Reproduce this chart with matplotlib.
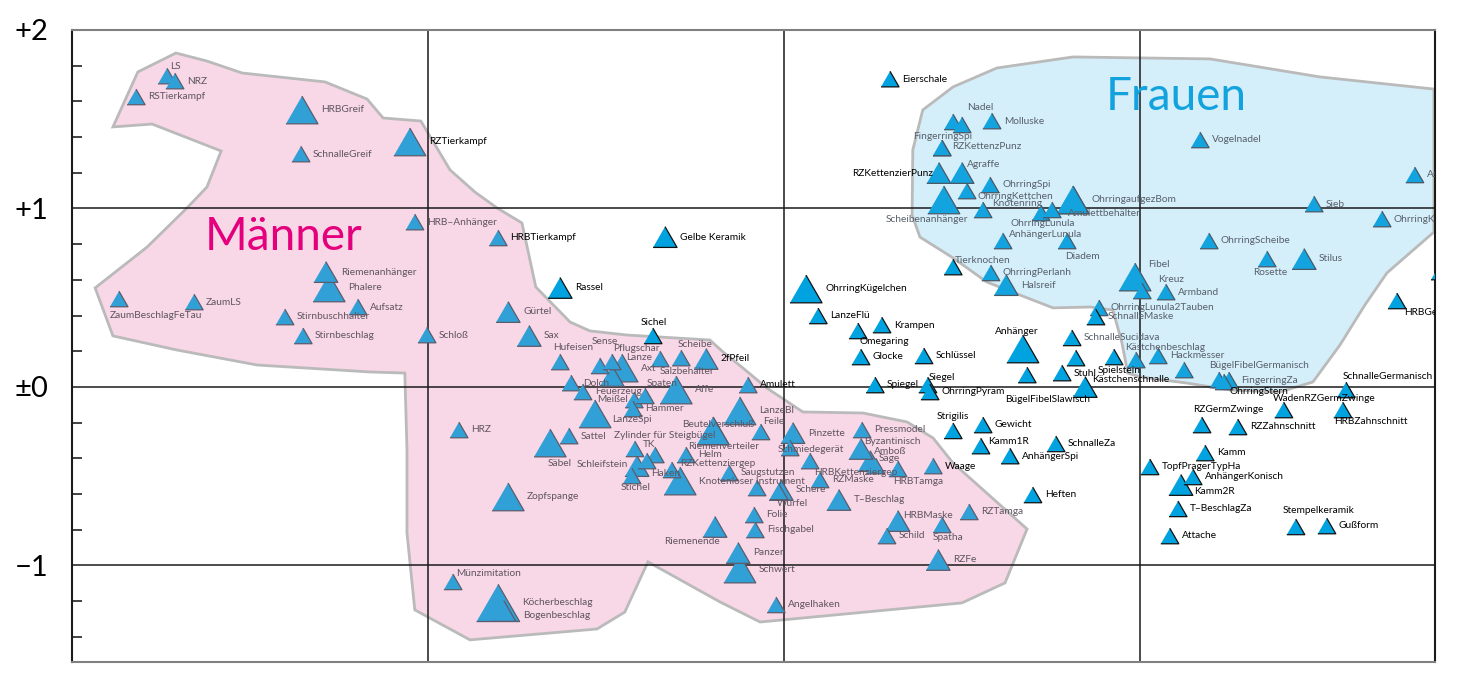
import numpy as np
import matplotlib
matplotlib.use("Agg")
import matplotlib.pyplot as plt
from matplotlib.path import Path
from matplotlib.patches import Polygon
from matplotlib.ticker import MultipleLocator

# ---- data: correspondence analysis, grave goods (dim1, dim2, weight class)
labels = [
    "LS", "NRZ", "RSTierkampf", "HRBGreif", "SchnalleGreif", "RZTierkampf",
    "HRB–Anhänger", "HRBTierkampf", "Gelbe Keramik", "Riemenanhänger", "Phalere",
    "Aufsatz", "ZaumBeschlagFeTau", "ZaumLS", "Stirnbuschhalter", "Stirnbeschlag",
    "Schloß", "Gürtel", "Rassel", "Sax", "Hufeisen", "Sichel", "Sense",
    "Pflugschar", "Lanze", "Axt", "Salzbehälter", "Scheibe", "2fPfeil", "Dolch",
    "Feuerzeug", "Meißel", "Spaten", "Affe", "Hammer", "LanzeSpi", "HRZ",
    "Sattel", "Säbel", "Beutelverschluß", "TK", "Zylinder für Steigbügel", "Helm",
    "Riemenverteiler", "Schleifstein", "Haken", "Stichel", "RZKettenziergep",
    "Knotenloser Instrument", "Saugstutzen", "", "Schere", "Würfel", "Zopfspange",
    "Riemenende", "Münzimitation", "Köcherbeschlag", "Bogenbeschlag", "Folie",
    "Fischgabel", "Panzer", "Schwert", "Angelhaken", "T–Beschlag", "HRBMaske",
    "Schild", "Spatha", "RZTamga", "RZFe", "Heften", "Waage", "HRBTamga",
    "RZMaske", "HRBKettenziergep", "Amboß", "Säge", "Byzantinisch", "Pressmodel",
    "Amulett", "LanzeBl", "Feile", "Pinzette", "Schmiedegerät",
    "Strigilis", "Gewicht", "Kamm1R", "SchnalleZa", "AnhängerSpi", "Spiegel",
    "Siegel", "OhrringPyram", "BügelFibelSlawisch", "Stuhl", "Anhänger", "",
    "SchnalleSucidava", "Kästchenschnalle", "Schlüssel", "Glocke", "Omegaring",
    "Krampen", "LanzeFlü", "OhrringKügelchen", "Tierknochen", "OhrringPerlanh",
    "Halsreif", "AnhängerLunula", "Diadem", "Eierschale", "Nadel", "",
    "FingerringSpi", "RZKettenzPunz", "Molluske", "RZKettenzierPunz", "Agraffe",
    "OhrringSpi", "OhrringKettchen", "Scheibenanhänger", "Knotenring",
    "OhrringLunula", "", "OhrringaufgezBom", "Amulettbehälter", "Vogelnadel",
    "As", "Sieb", "OhrringKo", "OhrringScheibe", "Rosette", "Stilus", "Fibel",
    "Kreuz", "Armband", "OhrringLunula2Tauben", "SchnalleMaske",
    "Kästchenbeschlag", "Spielstein", "Hackmesser", "", "BügelFibelGermanisch",
    "FingerringZa", "OhrringStern", "SchnalleGermanisch", "WadenRZGermZwinge",
    "HRBZahnschnitt", "RZGermZwinge", "RZZahnschnitt", "Kamm", "HRBGe", "",
    "TopfPragerTypHa", "AnhängerKonisch", "Kamm2R", "T–BeschlagZa", "Attache",
    "Stempelkeramik", "Gußform",
]
dim1 = [
    -1.733, -1.711, -1.820, -1.354, -1.357, -1.051,
    -1.037, -0.803, -0.334, -1.287, -1.278,
    -1.197, -1.868, -1.657, -1.402, -1.351,
    -1.003, -0.775, -0.629, -0.716, -0.629, -0.368, -0.517,
    -0.483, -0.483, -0.455, -0.348, -0.289, -0.219, -0.598,
    -0.565, -0.421, -0.390, -0.303, -0.424, -0.531, -0.913,
    -0.604, -0.657, -0.199, -0.419, -0.362, -0.275,
    -0.199, -0.413, -0.385, -0.427, -0.315,
    -0.292, -0.154, -0.076, -0.008, -0.014, -0.775,
    -0.194, -0.930, -0.803, -0.787, -0.084,
    -0.081, -0.129, -0.124, -0.022, 0.154, 0.320,
    0.289, 0.444, 0.520, 0.433, 0.699, 0.419, 0.320,
    0.101, 0.073, 0.242, 0.258, 0.216, 0.219,
    -0.101, -0.124, -0.065, 0.025, 0.017,
    0.475, 0.559, 0.553, 0.764, 0.635, 0.256,
    0.404, 0.410, 0.846, 0.781, 0.671, 0.683,
    0.809, 0.820, 0.393, 0.216, 0.208,
    0.275, 0.096, 0.062, 0.475, 0.581,
    0.624, 0.615, 0.795, 0.298, 0.475, 0.500,
    0.444, 0.444, 0.584, 0.435, 0.500,
    0.579, 0.514, 0.449, 0.559,
    0.722, 0.753, 0.812, 0.812, 1.169,
    1.772, 1.489, 1.680, 1.194, 1.357, 1.461, 0.986,
    1.006, 1.073, 0.885, 0.876,
    0.989, 0.927, 1.051, 1.124, 1.222,
    1.250, 1.236, 1.579, 1.404,
    1.570, 1.174, 1.275, 1.183, 1.722, 1.843,
    1.028, 1.149, 1.115, 1.107, 1.084,
    1.438, 1.525,
]
dim2 = [
    1.742, 1.714, 1.625, 1.552, 1.305, 1.373,
    0.924, 0.835, 0.840, 0.644, 0.555,
    0.448, 0.493, 0.476, 0.392, 0.286,
    0.291, 0.420, 0.555, 0.286, 0.140, 0.286, 0.118,
    0.140, 0.062, 0.106, 0.157, 0.162, 0.157, 0.022,
    -0.028, -0.073, -0.050, -0.017, -0.123, -0.151, -0.241,
    -0.275, -0.314, -0.246, -0.347, -0.381, -0.381,
    -0.246, -0.443, -0.415, -0.499, -0.465,
    -0.527, -0.482, -0.566, -0.577, -0.588, -0.616,
    -0.784, -1.092, -1.210, -1.255, -0.717,
    -0.801, -0.930, -1.020, -1.221, -0.633, -0.751,
    -0.835, -0.773, -0.700, -0.969, -0.605, -0.443, -0.459,
    -0.521, -0.415, -0.415, -0.443, -0.347, -0.241,
    0.011, -0.134, -0.252, -0.258, -0.342,
    -0.246, -0.213, -0.331, -0.319, -0.387, 0.011,
    0.011, -0.028, 0.000, 0.078, 0.213, 0.067,
    0.275, 0.162, 0.174, 0.168, 0.314,
    0.347, 0.398, 0.549, 0.672, 0.639,
    0.571, 0.818, 0.818, 1.725, 1.485, 1.468,
    1.339, 1.339, 1.490, 1.199, 1.199,
    1.132, 1.098, 1.048, 0.992,
    0.975, 0.992, 1.048, 1.048, 1.384,
    1.188, 1.025, 0.941, 0.818, 0.717, 0.717, 0.616,
    0.538, 0.532, 0.443, 0.392,
    0.151, 0.168, 0.174, 0.095, 0.039,
    0.039, 0.028, -0.017, -0.129,
    -0.129, -0.213, -0.224, -0.370, 0.482, 0.644,
    -0.448, -0.504, -0.549, -0.683, -0.835,
    -0.784, -0.779,
]
weight = [
    1, 1, 1, 3, 1, 3,
    1, 1, 2, 2, 3,
    1, 1, 1, 1, 1,
    1, 2, 2, 2, 1, 1, 1,
    1, 2, 3, 1, 1, 2, 1,
    1, 1, 1, 3, 1, 3, 1,
    1, 3, 3, 1, 1, 1,
    3, 2, 1, 1, 1,
    3, 1, 1, 2, 1, 3,
    2, 1, 4, 2, 1,
    1, 2, 3, 1, 2, 2,
    1, 1, 1, 2, 1, 1, 1,
    1, 1, 2, 1, 2, 1,
    1, 3, 1, 2, 1,
    1, 1, 1, 1, 1, 1,
    1, 1, 2, 1, 3, 1,
    1, 1, 1, 1, 1,
    1, 1, 3, 1, 1,
    2, 1, 1, 1, 1, 1,
    1, 1, 1, 2, 2,
    1, 1, 3, 1,
    1, 1, 3, 3, 1,
    1, 1, 1, 1, 1, 2, 3,
    1, 1, 1, 1,
    1, 1, 1, 1, 1,
    1, 1, 1, 1,
    1, 1, 1, 1, 1, 1,
    1, 1, 2, 1, 1,
    1, 1,
]

maenner_x = [-1.885, -1.815, -1.708, -1.621, -1.522, -1.289, -1.171, -1.126, -1.020,
             -0.938, -0.868, -0.806, -0.736, -0.697, -0.601, -0.545, -0.441, -0.208,
             -0.171, -0.115, -0.048, 0.053, 0.222, 0.346, 0.419, 0.475, 0.683, 0.621,
             0.500, -0.067, -0.180, -0.382, -0.447, -0.525, -0.882, -1.037, -1.059,
             -1.059, -1.065, -1.163, -1.480, -1.705, -1.885, -1.935, -1.789, -1.677,
             -1.621, -1.581, -1.775]
maenner_y = [1.457, 1.765, 1.871, 1.826, 1.759, 1.709, 1.613, 1.507, 1.490,
             1.216, 1.092, 1.003, 0.919, 0.560, 0.364, 0.314, 0.291, 0.263,
             0.196, 0.106, -0.006, -0.140, -0.146, -0.196, -0.286, -0.426, -0.796, -1.098,
             -1.210, -1.317, -1.204, -0.980, -1.261, -1.356, -1.417, -1.249, -0.818,
             -0.353, 0.078, 0.084, 0.123, 0.207, 0.286, 0.555, 0.784, 1.003,
             1.120, 1.322, 1.473]
frauen_x = [0.390, 0.475, 0.598, 0.812, 1.197, 1.506, 1.826, 1.826, 1.694, 1.632,
            1.562, 1.486, 1.393, 1.253, 1.132, 1.000, 0.966, 0.949, 0.924, 0.860,
            0.756, 0.663, 0.570, 0.475, 0.382, 0.360, 0.362]
frauen_y = [1.552, 1.681, 1.787, 1.849, 1.838, 1.737, 1.669, 0.868, 0.639, 0.459,
            0.235, 0.028, -0.028, -0.017, 0.022, 0.056, 0.078, 0.252, 0.431, 0.448,
            0.443, 0.515, 0.588, 0.723, 0.840, 0.964, 1.328]

yticks = [2, 1, 0, -1]
ytick_labels = ["+2", "+1", "±0", "−1"]

# ---- label placement (pixel offsets from marker centre, y down); default = right
label_pos = {
    "LS": (3, -10), "ZaumBeschlagFeTau": (-9, 17), "Hufeisen": (-7, -14),
    "Sichel": (-12, -13), "Sense": (-8, -24), "Pflugschar": (1, -13),
    "Lanze": (14, -18), "Salzbehälter": (0, 13), "Scheibe": (-3, -14),
    "Meißel": (-6, 0, "right"), "Spaten": (2, -12), "LanzeSpi": (17, 6),
    "Säbel": (-2, 20), "Beutelverschluß": (-31, -6), "TK": (8, -4),
    "Zylinder für Steigbügel": (-41, -19), "Riemenverteiler": (-25, 16),
    "Schleifstein": (-9, -2, "right"), "Haken": (4, 12), "Stichel": (-11, 11),
    "RZKettenziergep": (8, -6), "Würfel": (-2, 12), "Riemenende": (-51, 15),
    "Münzimitation": (3, -8), "Bogenbeschlag": (19, 5), "HRBMaske": (5, -6),
    "Spatha": (-9, 13), "HRBTamga": (-5, 13), "HRBKettenziergep": (4, 11),
    "Amboß": (4, -10), "Säge": (3, -8), "Byzantinisch": (3, -7), "Feile": (2, -10),
    "Schmiedegerät": (-12, 1), "Strigilis": (-16, -14), "Kamm1R": (7, -5),
    "Siegel": (1, -7), "BügelFibelSlawisch": (5, 13, "right"), "Anhänger": (-28, -17),
    "Kästchenschnalle": (16, 21), "Omegaring": (2, 11), "Tierknochen": (2, -7),
    "AnhängerLunula": (6, -6), "Diadem": (-2, 16), "Nadel": (14, -14),
    "FingerringSpi": (-29, -11), "RZKettenzPunz": (10, -1),
    "RZKettenzierPunz": (-6, 1, "right"), "Agraffe": (5, -8), "OhrringKettchen": (11, 6),
    "Scheibenanhänger": (-58, 20), "Knotenring": (9, -6), "OhrringLunula": (-30, 11),
    "Amulettbehälter": (-5, 14), "Rosette": (-14, 14), "Fibel": (13, -13),
    "Kreuz": (16, -11), "Kästchenbeschlag": (-11, -13), "Spielstein": (-16, 14),
    "BügelFibelGermanisch": (-10, -15), "OhrringStern": (6, 10),
    "SchnalleGermanisch": (-3, -13), "WadenRZGermZwinge": (-11, -11),
    "HRBZahnschnitt": (-9, 12), "RZGermZwinge": (-9, -15), "HRBGe": (7, 12),
    "Stempelkeramik": (-13, -16), "Kamm2R": (13, 7),
}
width_px = {1: 18, 2: 24, 3: 32, 4: 43}
XPX, YPX = 356.0, 178.5   # pixels per data unit

fig = plt.figure(figsize=(14.64, 6.79), dpi=100)
ax = fig.add_axes([72 / 1464, 17 / 679, 1363 / 1464, 632 / 679])
ax.set_xlim(-2.0, 1.829)
ax.set_ylim(-1.541, 2.0)

m_poly = np.column_stack([maenner_x, maenner_y])
f_poly = np.column_stack([frauen_x, frauen_y])
ax.add_patch(Polygon(m_poly, closed=True, fc="#f8d7e6", ec="#bababa", lw=2, zorder=1))
ax.add_patch(Polygon(f_poly, closed=True, fc="#d4eefa", ec="#bababa", lw=2, zorder=1))
m_path, f_path = Path(m_poly), Path(f_poly)

for v in (-1, 0, 1):
    ax.axvline(v, color="#1a1a1a", lw=1.1, zorder=2)
    ax.axhline(v, color="#1a1a1a", lw=1.1, zorder=2)

def region(x, y):
    if m_path.contains_point((x, y)):
        return "m"
    if f_path.contains_point((x, y)):
        return "f"
    return "o"

face = {"m": "#31a0d6", "f": "#13a4df", "o": "#00a3df"}
edge = {"m": "#5d5c6c", "f": "#4a5866", "o": "#111111"}
tcol = {"m": "#5f5561", "f": "#57606a", "o": "#000000"}

tri = [(-1, -0.866), (1, -0.866), (0, 0.866)]
order = np.argsort(-np.array(weight), kind="stable")
xs = np.array(dim1)[order]
ys = np.array(dim2)[order]
regs = [region(dim1[i], dim2[i]) for i in order]
sizes = [(width_px[weight[i]] * 0.72) ** 2 for i in order]
ax.scatter(xs, ys, s=sizes, marker=tri, c=[face[r] for r in regs],
           edgecolors=[edge[r] for r in regs], linewidths=0.9, zorder=3, clip_on=True)

for name, x, y, w in zip(labels, dim1, dim2, weight):
    if not name:
        continue
    p = label_pos.get(name, (width_px[w] / 2 + 3, 0))
    dx, dy = p[0], p[1]
    ha = p[2] if len(p) > 2 else "left"
    mid = dx + (len(name) * 2.6 if ha == "left" else -len(name) * 2.6)
    r = region(x + mid / XPX, y - dy / YPX)
    ax.annotate(name, (x, y), xytext=(dx * 0.72, -dy * 0.72), textcoords="offset points",
                ha=ha, va="center", fontsize=7.3, family="Lato", color=tcol[r],
                zorder=5, annotation_clip=False, clip_on=True)

ax.text(-1.626, 0.767, "Männer", fontsize=33, family="Lato", color="#e4007c", zorder=4)
ax.text(0.904, 1.552, "Frauen", fontsize=33, family="Lato", color="#12a3df", zorder=4)

ax.set_xticks([])
ax.set_yticks(yticks, ytick_labels)
ax.yaxis.set_minor_locator(MultipleLocator(0.2))
ax.tick_params(axis="y", which="major", length=0, pad=17, labelsize=21)
ax.tick_params(axis="y", which="minor", direction="in", length=7, width=1.2, color="#222222")
for lab in ax.get_yticklabels():
    lab.set_family("Lato")
ax.spines["top"].set_color("#808080")
ax.spines["bottom"].set_color("#808080")
ax.spines["left"].set_color("#1a1a1a")
ax.spines["right"].set_color("#1a1a1a")
for s in ax.spines.values():
    s.set_linewidth(1.5)

fig.savefig("out.png", dpi=100)
